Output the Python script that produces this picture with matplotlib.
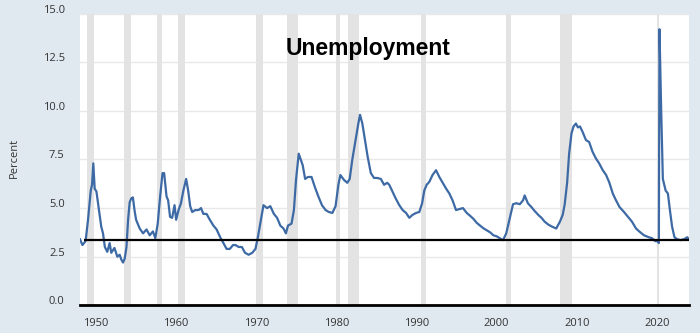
import numpy as np
import matplotlib
matplotlib.use("Agg")
import matplotlib.pyplot as plt
from matplotlib.transforms import ScaledTranslation

# unemployment rate (decimal year, percent)
years = [
    1948.0, 1948.3, 1948.7, 1949.0, 1949.34, 1949.5, 1949.66, 1949.83, 1950.05, 1950.3,
    1950.65, 1950.87, 1951.1, 1951.4, 1951.7, 1951.9, 1952.3, 1952.66, 1952.95, 1953.16,
    1953.37, 1953.58, 1953.8, 1954.0, 1954.2, 1954.4, 1954.6, 1954.8, 1955.0, 1955.45,
    1955.87, 1956.3, 1956.7, 1957.1, 1957.4, 1957.7, 1958.0, 1958.3, 1958.5, 1958.8,
    1959.0, 1959.24, 1959.5, 1959.8, 1960.0, 1960.3, 1960.6, 1960.9, 1961.25, 1961.5,
    1961.75, 1962.0, 1962.4, 1962.8, 1963.1, 1963.4, 1963.8, 1964.2, 1964.65, 1965.05,
    1965.5, 1965.9, 1966.3, 1966.7, 1967.1, 1967.4, 1967.8, 1968.2, 1968.6, 1969.05,
    1969.5, 1969.9, 1970.2, 1970.5, 1970.8, 1970.9, 1971.35, 1971.75, 1972.2, 1972.6,
    1973.0, 1973.4, 1973.7, 1973.96, 1974.4, 1974.7, 1974.96, 1975.3, 1975.55, 1975.8,
    1976.1, 1976.45, 1976.9, 1977.3, 1977.75, 1978.2, 1978.65, 1979.05, 1979.5, 1979.9,
    1980.25, 1980.5, 1980.95, 1981.36, 1981.66, 1981.99, 1982.4, 1982.74, 1982.95, 1983.24,
    1983.57, 1983.9, 1984.3, 1984.7, 1985.1, 1985.55, 1985.95, 1986.35, 1986.6, 1987.0,
    1987.4, 1987.85, 1988.27, 1988.7, 1989.1, 1989.5, 1989.94, 1990.35, 1990.7, 1990.97,
    1991.27, 1991.6, 1992.0, 1992.44, 1992.85, 1993.27, 1993.7, 1994.1, 1994.5, 1994.93,
    1995.35, 1995.8, 1996.27, 1996.7, 1997.1, 1997.5, 1997.93, 1998.4, 1998.8, 1999.2,
    1999.6, 2000.0, 2000.4, 2000.8, 2001.2, 2001.6, 2002.05, 2002.46, 2002.9, 2003.3,
    2003.5, 2003.9, 2004.35, 2004.75, 2005.2, 2005.6, 2006.0, 2006.46, 2006.9, 2007.45,
    2007.9, 2008.25, 2008.5, 2008.8, 2009.05, 2009.35, 2009.6, 2009.9, 2010.15, 2010.4,
    2010.7, 2011.15, 2011.55, 2011.97, 2012.4, 2012.8, 2013.25, 2013.67, 2014.08, 2014.5,
    2014.9, 2015.35, 2015.9, 2016.5, 2016.9, 2017.4, 2017.8, 2018.4, 2019.0, 2019.4,
    2019.8, 2020.1, 2020.25, 2020.33, 2020.54, 2020.75, 2021.1, 2021.38, 2021.63, 2021.9,
    2022.2, 2022.54, 2022.95, 2023.4, 2023.8, 2024.0,
]
rate = [
    3.4, 3.1, 3.3, 4.4, 5.9, 6.2, 7.3, 6.0, 5.85, 5.1,
    4.05, 3.7, 3.0, 2.75, 3.2, 2.7, 2.95, 2.5, 2.6, 2.35,
    2.2, 2.4, 3.0, 4.4, 5.3, 5.5, 5.55, 4.9, 4.4, 3.95,
    3.7, 3.9, 3.6, 3.8, 3.45, 4.2, 5.6, 6.8, 6.8, 5.6,
    5.4, 4.55, 4.5, 5.15, 4.4, 4.9, 5.25, 5.9, 6.5, 5.9,
    5.1, 4.8, 4.9, 4.9, 5.0, 4.7, 4.7, 4.4, 4.1, 3.9,
    3.5, 3.2, 2.9, 2.9, 3.1, 3.1, 3.0, 3.0, 2.7, 2.6,
    2.7, 2.9, 3.5, 4.2, 4.9, 5.15, 5.0, 5.1, 4.7, 4.5,
    4.1, 3.95, 3.7, 4.1, 4.2, 4.9, 6.45, 7.8, 7.5, 7.2,
    6.5, 6.6, 6.6, 6.1, 5.6, 5.15, 4.9, 4.8, 4.75, 5.1,
    6.2, 6.7, 6.45, 6.3, 6.5, 7.5, 8.5, 9.35, 9.8, 9.35,
    8.5, 7.65, 6.8, 6.55, 6.55, 6.5, 6.2, 6.3, 6.2, 5.85,
    5.5, 5.15, 4.9, 4.75, 4.5, 4.65, 4.75, 4.8, 5.25, 5.9,
    6.2, 6.35, 6.7, 6.95, 6.6, 6.3, 6.0, 5.75, 5.4, 4.9,
    4.95, 5.0, 4.75, 4.6, 4.45, 4.25, 4.1, 3.95, 3.85, 3.75,
    3.6, 3.55, 3.45, 3.35, 3.7, 4.4, 5.2, 5.25, 5.2, 5.4,
    5.65, 5.25, 5.05, 4.85, 4.65, 4.5, 4.3, 4.15, 4.05, 3.95,
    4.3, 4.65, 5.2, 6.3, 7.8, 8.85, 9.2, 9.35, 9.15, 9.2,
    8.95, 8.5, 8.4, 7.9, 7.55, 7.3, 6.95, 6.7, 6.3, 5.75,
    5.4, 5.05, 4.8, 4.5, 4.3, 3.95, 3.8, 3.6, 3.5, 3.45,
    3.3, 3.3, 3.2, 14.2, 10.05, 6.5, 5.9, 5.75, 4.9, 4.05,
    3.5, 3.4, 3.35, 3.4, 3.5, 3.4,
]

# NBER recessions (start, end)
rec_start = [1948.83, 1953.5, 1957.58, 1960.25, 1969.92, 1973.83, 1980.0, 1981.5, 1990.5, 2001.17, 2007.92, 2020.08]
rec_end = [1949.75, 1954.33, 1958.25, 1961.08, 1970.83, 1975.17, 1980.5, 1982.83, 1991.17, 2001.83, 2009.42, 2020.25]

ref_level = 3.37
ref_start = 1948.5

xticks = [1950, 1960, 1970, 1980, 1990, 2000, 2010, 2020]
yticks = [0, 2.5, 5, 7.5, 10, 12.5, 15]

bg = "#e1e9f0"
fig = plt.figure(figsize=(7, 3.33), dpi=100, facecolor=bg)
ax = fig.add_axes([0.1143, 0.0832, 0.8704, 0.8757])
ax.set_facecolor("white")

for s, e in zip(rec_start, rec_end):
    ax.axvspan(s, e, color="#e3e3e3", lw=0, zorder=1)

ax.set_ylim(0, 15)
ax.set_xlim(1948.0, 2024.05)
ax.set_yticks(yticks)
ax.set_yticklabels([f"{v:.1f}" for v in yticks])
ax.set_xticks(xticks)
ax.grid(axis="y", color="#e8e8e8", lw=1, zorder=0)
ax.set_axisbelow(True)
for sp in ax.spines.values():
    sp.set_visible(False)

ax.tick_params(axis="both", length=0, labelsize=8, labelcolor="#333333")
ax.tick_params(axis="y", pad=11)
ax.tick_params(axis="x", pad=9)
off = ScaledTranslation(0, 0.05, fig.dpi_scale_trans)
for lab in ax.get_yticklabels():
    lab.set_transform(lab.get_transform() + off)
    lab.set_fontfamily("Open Sans")
for lab in ax.get_xticklabels():
    lab.set_fontfamily("Open Sans")

ax.plot(years, rate, color="#3d6aa5", lw=1.6, zorder=3)
ax.hlines(ref_level, ref_start, 2024.05, color="black", lw=1.6, zorder=4)
ax.axhline(0, color="black", lw=2, zorder=4, clip_on=False)

ax.set_ylabel("Percent", fontsize=8, color="#333333", family="Open Sans", labelpad=28)
ax.yaxis.set_label_coords(-0.098, 0.505)

ax.text(0.4727, 0.882, "Unemployment", transform=ax.transAxes, ha="center", va="center",
        fontsize=16.5, fontweight="bold", family="Liberation Sans", color="black")

fig.savefig("out.png", dpi=100, facecolor=bg)
